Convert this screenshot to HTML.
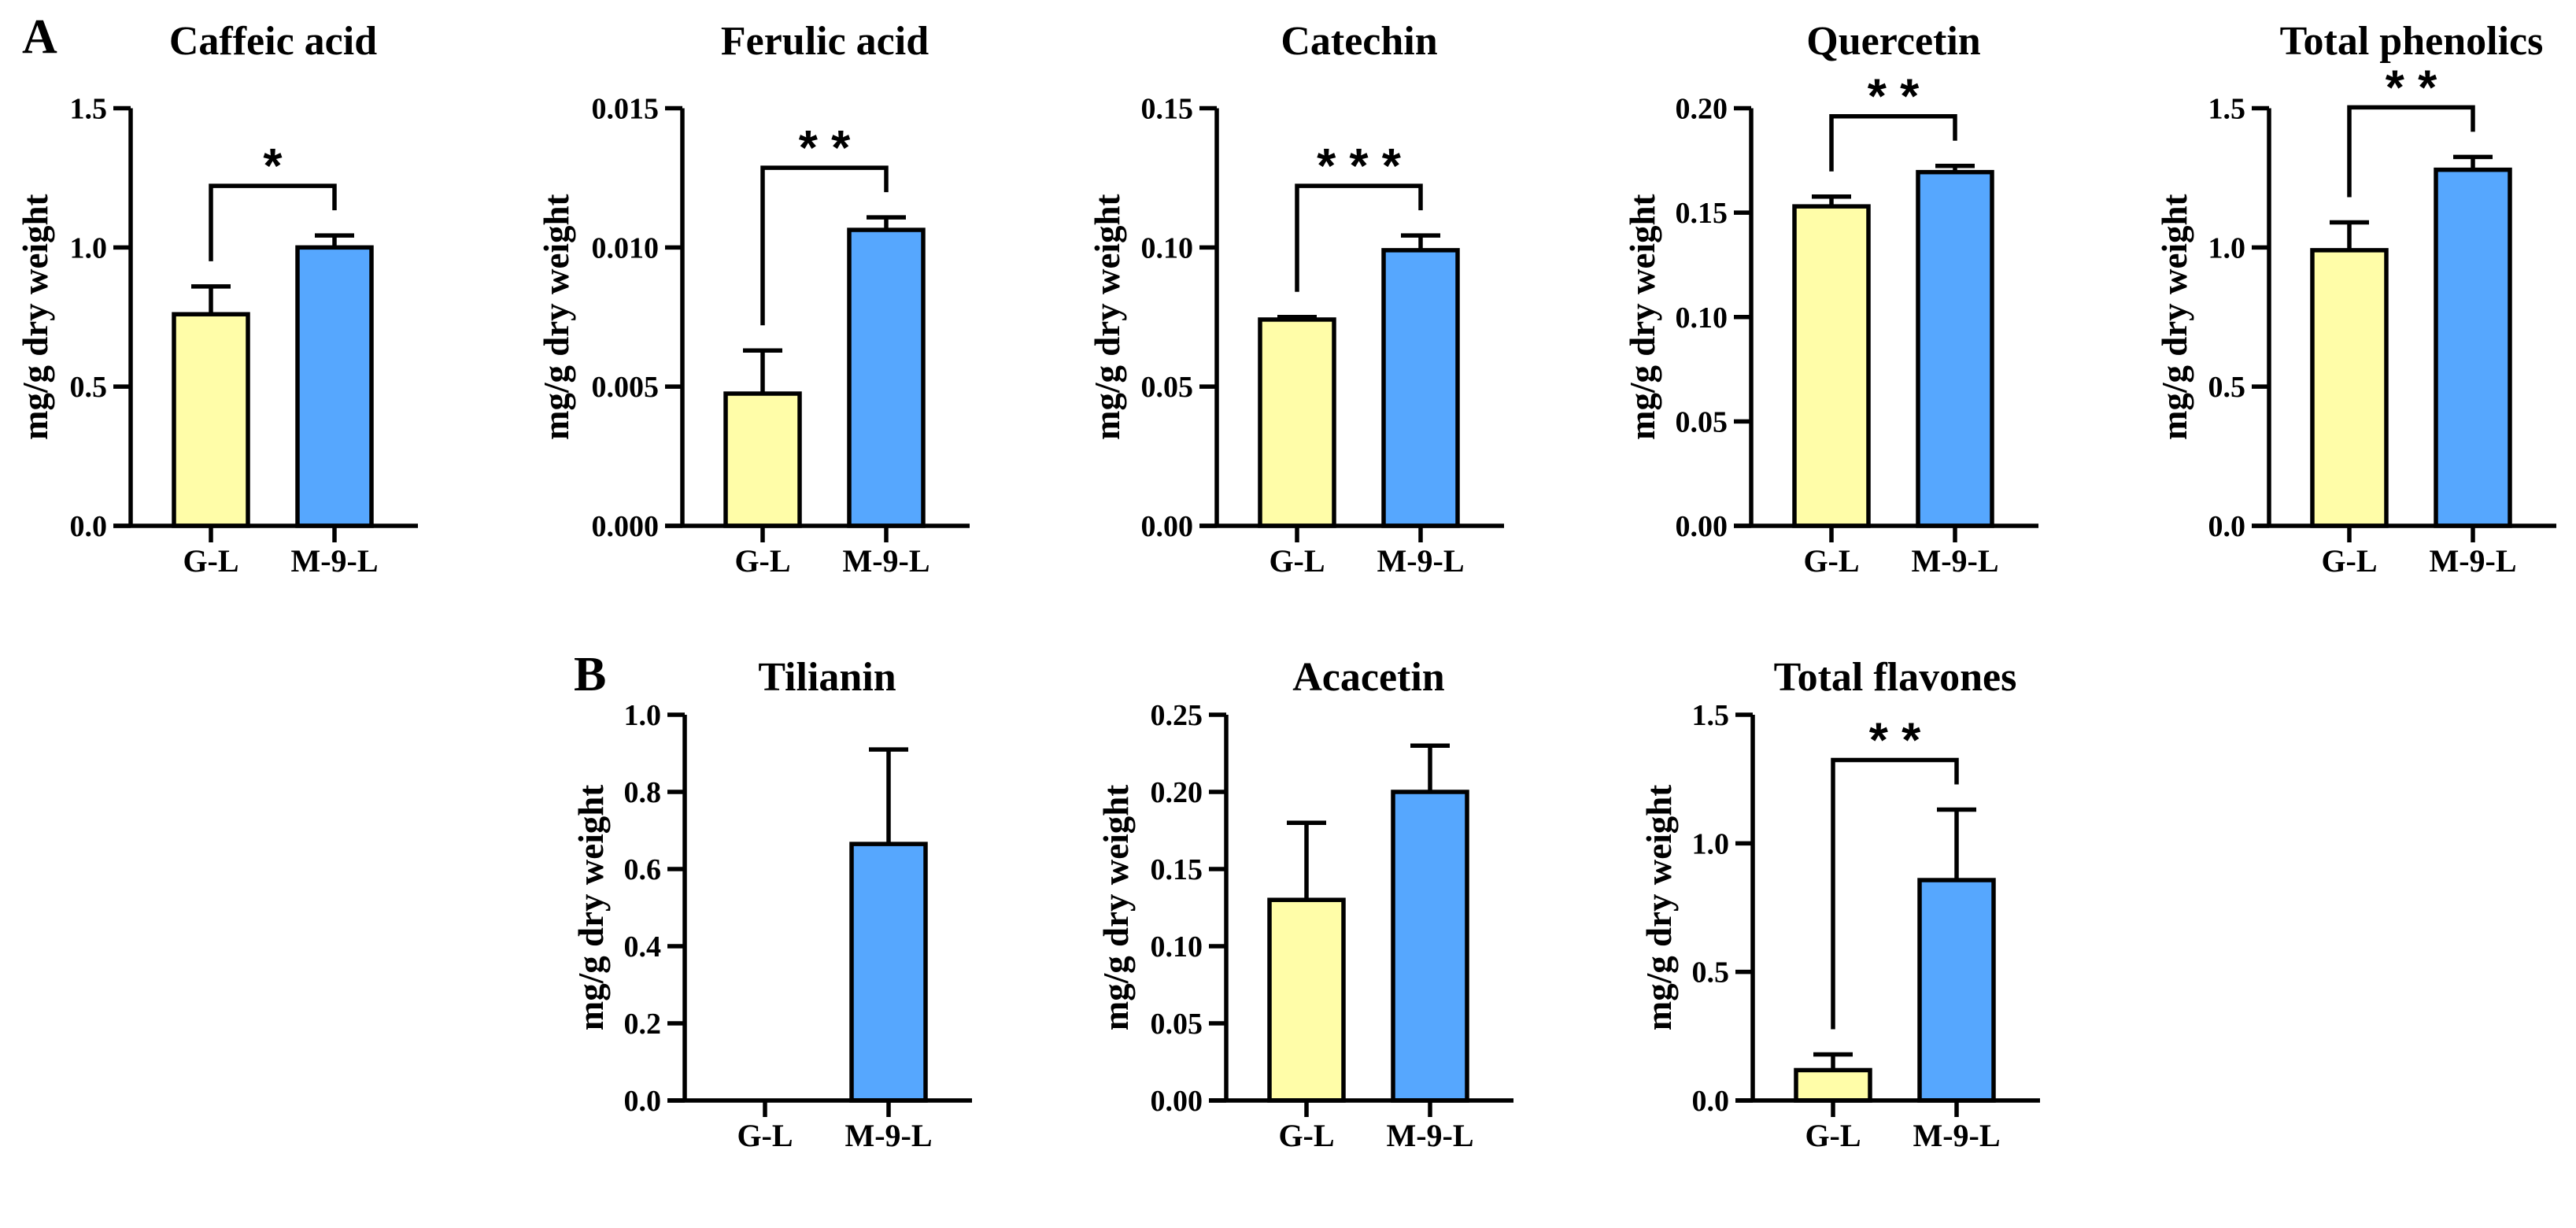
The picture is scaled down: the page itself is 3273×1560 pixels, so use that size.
<!DOCTYPE html>
<html><head><meta charset="utf-8">
<style>
html,body{margin:0;padding:0;background:#fff;}
svg{display:block;font-family:"Liberation Serif",serif;font-weight:bold;}
</style></head>
<body>
<svg id="fig" width="3273" height="1560" viewBox="0 0 3273 1560" xmlns="http://www.w3.org/2000/svg">
<text x="28" y="67" font-size="62">A</text>
<text x="729" y="877" font-size="62">B</text>
</svg>
<script>
const titles = ["Caffeic acid","Ferulic acid","Catechin","Quercetin","Total phenolics","Tilianin","Acacetin","Total flavones"];
const categories = ["G-L","M-9-L"];
const yMax = [1.5,0.015,0.15,0.2,1.5,1.0,0.25,1.5];
const tickLabels = [
  ["0.0","0.5","1.0","1.5"],
  ["0.000","0.005","0.010","0.015"],
  ["0.00","0.05","0.10","0.15"],
  ["0.00","0.05","0.10","0.15","0.20"],
  ["0.0","0.5","1.0","1.5"],
  ["0.0","0.2","0.4","0.6","0.8","1.0"],
  ["0.00","0.05","0.10","0.15","0.20","0.25"],
  ["0.0","0.5","1.0","1.5"]
];
const meanGL = [0.76,0.00475,0.0741,0.153,0.99,0,0.13,0.118];
const errGL  = [0.10,0.00155,0.0009,0.0047,0.10,0,0.05,0.061];
const meanM9 = [1.0,0.01063,0.099,0.1694,1.279,0.665,0.20,0.857];
const errM9  = [0.043,0.00045,0.0053,0.003,0.046,0.245,0.03,0.274];
const sigStars = ["*","* *","* * *","* *","* *","","","* *"];

// layout (not data)
const axisX = [166,867,1546,2225,2883,870,1558,2227];
const axisTop = [137.5,137.5,137.5,137.5,137.5,908,908,908];
const axisZero = [668,668,668,668,668,1398,1398,1398];
const yLabOff = [121,160,139,138,120,119,140,119];
const titleY = [69,69,69,69,69,877,877,877];

const svg = document.getElementById('fig');
const NS = 'http://www.w3.org/2000/svg';
function mk(tag, attrs){const e=document.createElementNS(NS,tag);for(const k in attrs)e.setAttribute(k,attrs[k]);return e;}
const LW = 5.5;

for(let p=0;p<titles.length;p++){
  const g = mk('g',{});
  
  
  svg.appendChild(g);
  const ax = axisX[p], top = axisTop[p], zero = axisZero[p];
  const y = v => zero - v / yMax[p] * (zero - top);
  const xc = [ax + 102, ax + 259];

  const t = mk('text',{x:ax+181,y:titleY[p],'font-size':52,'text-anchor':'middle'});
  t.textContent = titles[p];
  
  
  g.appendChild(t);

  const yl = mk('text',{transform:`translate(${ax-yLabOff[p]+15},${(top+zero)/2}) rotate(-90)`,'font-size':45,'text-anchor':'middle'});
  yl.textContent = 'mg/g dry weight';
  
  
  g.appendChild(yl);

  // bars
  const means=[meanGL[p],meanM9[p]], errs=[errGL[p],errM9[p]], fills=['#FFFDA8','#56A7FE'];
  for(let i=0;i<2;i++){
    if(means[i]>0){
      const eb = mk('path',{d:`M${xc[i]} ${y(means[i])} V${y(means[i]+errs[i])} M${xc[i]-25} ${y(means[i]+errs[i])} H${xc[i]+25}`,stroke:'#000','stroke-width':LW,fill:'none'});
      
      
      g.appendChild(eb);
      const r = mk('rect',{x:xc[i]-47,y:y(means[i]),width:94,height:zero-y(means[i]),fill:fills[i],stroke:'#000','stroke-width':LW});
      
      
      g.appendChild(r);
    }
    const tk = mk('line',{x1:xc[i],x2:xc[i],y1:zero,y2:zero+21,stroke:'#000','stroke-width':LW});
    
    
    g.appendChild(tk);
    const xl = mk('text',{x:xc[i],y:zero+58,'font-size':40,'text-anchor':'middle'});
    xl.textContent = categories[i];
    
    
    g.appendChild(xl);
  }

  // axes
  const axis = mk('path',{d:`M${ax} ${top} V${zero} M${ax-22} ${zero} H${ax+365}`,stroke:'#000','stroke-width':LW,fill:'none'});
  
  
  g.appendChild(axis);
  const n = tickLabels[p].length;
  for(let k=0;k<n;k++){
    const v = yMax[p]*k/(n-1), yy = y(v);
    const tk = mk('line',{x1:ax-22,x2:ax,y1:yy,y2:yy,stroke:'#000','stroke-width':LW});
    
    
    g.appendChild(tk);
    const tl = mk('text',{x:ax-30,y:yy+13,'font-size':38,'text-anchor':'end'});
    tl.textContent = tickLabels[p][k];
    
    
    g.appendChild(tl);
  }

  // significance bracket
  if(sigStars[p]){
    const l1 = y(means[0]+errs[0]) - 32, l2 = y(means[1]+errs[1]) - 32;
    const by = Math.min(l1,l2) - 31;
    const br = mk('path',{d:`M${xc[0]} ${l1} V${by} H${xc[1]} V${l2}`,stroke:'#000','stroke-width':LW,fill:'none'});
    
    
    g.appendChild(br);
    const st = mk('text',{x:(xc[0]+xc[1])/2,y:by-4,'font-size':62,'text-anchor':'middle','font-family':'Liberation Sans, sans-serif'});
    st.textContent = sigStars[p];
    
    
    g.appendChild(st);
  }
}
</script>
</body></html>
